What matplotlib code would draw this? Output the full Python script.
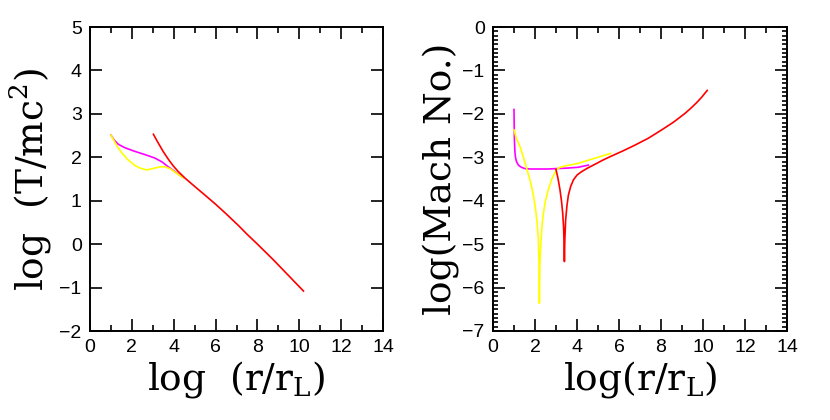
import matplotlib
matplotlib.use("Agg")
import matplotlib.pyplot as plt
from matplotlib.ticker import MultipleLocator

plt.rcParams['font.family'] = 'Liberation Sans'
plt.rcParams['mathtext.fontset'] = 'custom'
plt.rcParams['mathtext.rm'] = 'DejaVu Serif'

# left panel: log(T/mc^2) vs log(r/r_L)
t_mag_x = [1.0, 1.15, 1.35, 1.67, 2.0, 2.31, 2.7, 3.11, 3.45, 3.74, 4.0, 4.25, 4.45]
t_mag_y = [2.51, 2.40, 2.30, 2.22, 2.16, 2.11, 2.05, 1.98, 1.89, 1.78, 1.69, 1.60, 1.54]
t_yel_x = [1.0, 1.15, 1.3, 1.51, 1.8, 2.15, 2.45, 2.71, 3.0, 3.34, 3.6, 3.85, 4.14, 4.45]
t_yel_y = [2.51, 2.38, 2.25, 2.11, 1.95, 1.81, 1.74, 1.71, 1.74, 1.78, 1.78, 1.73, 1.63, 1.53]
t_red_x = [3.03, 3.2, 3.5, 3.75, 3.98, 4.2, 4.54, 5.0, 5.49, 6.0, 6.5, 7.09, 7.5, 8.0, 8.36, 8.8, 9.16, 9.5, 9.9, 10.2]
t_red_y = [2.53, 2.38, 2.13, 1.95, 1.80, 1.68, 1.52, 1.33, 1.13, 0.92, 0.70, 0.43, 0.23, 0.0, -0.17, -0.38, -0.56,
           -0.73, -0.93, -1.08]

# right panel: log(Mach No.) vs log(r/r_L)
m_mag_x = [1.0, 1.01, 1.02, 1.04, 1.07, 1.12, 1.21, 1.35, 1.52, 1.8, 2.16, 2.6, 3.03, 3.5, 4.06, 4.54]
m_mag_y = [-1.90, -2.3, -2.6, -2.85, -3.0, -3.1, -3.18, -3.23, -3.26, -3.27, -3.27, -3.27, -3.26, -3.25, -3.23, -3.18]
m_yel_x = [1.0, 1.1, 1.29, 1.45, 1.6, 1.75, 1.84, 1.95, 2.03, 2.1, 2.16, 2.19, 2.21, 2.23, 2.27, 2.33, 2.4,
           2.5, 2.63, 2.8, 3.03, 3.2, 3.43, 3.75, 4.06, 4.45, 4.86, 5.33, 5.6]
m_yel_y = [-2.37, -2.55, -2.76, -3.0, -3.25, -3.5, -3.68, -3.95, -4.21, -4.5, -4.9, -5.4, -6.36, -5.5, -5.06, -4.6, -4.29,
           -4.0, -3.75, -3.5, -3.28, -3.23, -3.20, -3.17, -3.14, -3.08, -3.02, -2.95, -2.91]
m_red_x = [3.0, 3.1, 3.19, 3.26, 3.32, 3.36, 3.38, 3.40, 3.42, 3.46, 3.52, 3.59, 3.7, 3.83, 4.0, 4.22, 4.5, 4.86,
           5.25, 5.65, 6.2, 6.76, 7.4, 8.03, 8.6, 9.14, 9.4, 9.7, 9.95, 10.2]
m_red_y = [-3.28, -3.5, -3.75, -4.0, -4.29, -4.6, -4.9, -5.40, -4.9, -4.44, -4.12, -3.87, -3.67, -3.52, -3.41, -3.33,
           -3.25, -3.16, -3.06, -2.97, -2.85, -2.72, -2.56, -2.37, -2.19, -1.99, -1.88, -1.74, -1.61, -1.46]

fig = plt.figure(figsize=(8.3, 4.2), dpi=100)
ax1 = fig.add_axes([90 / 830, 89 / 420, 293 / 830, 304 / 420])
ax2 = fig.add_axes([493 / 830, 89 / 420, 294 / 830, 304 / 420])

lw = 1.2
ax1.plot(t_mag_x, t_mag_y, color='#ff00ff', lw=lw)
ax1.plot(t_yel_x, t_yel_y, color='#ffff00', lw=lw)
ax1.plot(t_red_x, t_red_y, color='#ff0000', lw=lw)

ax2.plot(m_mag_x, m_mag_y, color='#ff00ff', lw=lw)
ax2.plot(m_yel_x, m_yel_y, color='#ffff00', lw=lw)
ax2.plot(m_red_x, m_red_y, color='#ff0000', lw=lw)

ax1.set_xlim(0, 14)
ax1.set_ylim(-2, 5)
ax2.set_xlim(0, 14)
ax2.set_ylim(-7, 0)

for ax in (ax1, ax2):
    ax.xaxis.set_major_locator(MultipleLocator(2))
    ax.xaxis.set_minor_locator(MultipleLocator(1))
    ax.yaxis.set_major_locator(MultipleLocator(1))
    ax.tick_params(which='both', direction='in', top=True, right=True, width=1.2)
    ax.tick_params(which='major', length=8.5, labelsize=14, pad=6)
    ax.tick_params(which='minor', length=4.3)
    for s in ax.spines.values():
        s.set_linewidth(1.4)

ax2.yaxis.set_minor_locator(MultipleLocator(0.1))
ax2.tick_params(axis='y', which='minor', length=3.6)

lab = dict(family='DejaVu Serif', fontsize=27)
ax1.set_xlabel(r'log  (r/r$_{\mathrm{L}}$)', labelpad=2, **lab)
ax1.set_ylabel(r'log  (T/mc$^{2}$)', labelpad=4, **lab)
ax2.set_xlabel(r'log(r/r$_{\mathrm{L}}$)', labelpad=2, **lab)
ax2.set_ylabel('log(Mach No.)', labelpad=2, **lab)

fig.savefig('out.png', dpi=100)
